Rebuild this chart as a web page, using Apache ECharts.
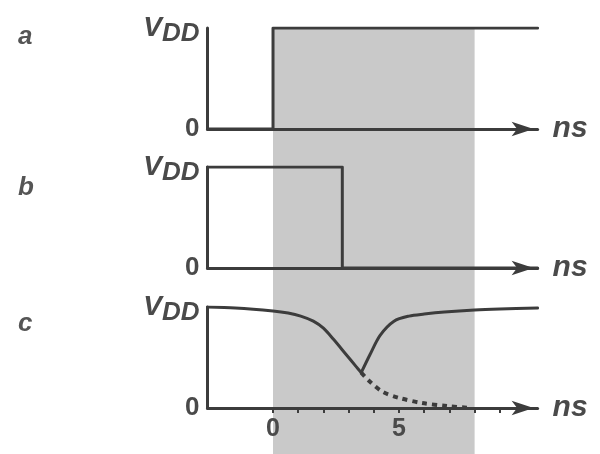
<!DOCTYPE html>
<html>
<head>
<meta charset="utf-8">
<script src="https://cdn.jsdelivr.net/npm/echarts@6/dist/echarts.min.js"></script>
<style>
  html, body { margin: 0; padding: 0; background: #fff; }
  #main { width: 600px; height: 454px; }
</style>
</head>
<body>
<div id="main"></div>
<script>
// time range of the plot (ns), levels are in units of VDD
var tMin = -2.6;
var tMax = 10.5;

// shaded window (ns)
var shadeFrom = 0;
var shadeTo = 8;

// a: rises at t = 0
var aTimes = [-2.6, 0, 0, 10.5];
var aLevels = [0, 0, 1, 1];

// b: falls at t = 2.75
var bTimes = [-2.6, 2.75, 2.75, 10.5];
var bLevels = [1, 1, 0, 0];

// c: dips then recovers (solid), the dotted part keeps falling
var cFallTimes = [-2.6, -1.5, 0, 0.6, 1.1, 1.6, 2.0, 2.4, 2.9, 3.3, 3.5];
var cFallLevels = [1.0, 0.99, 0.96, 0.94, 0.91, 0.86, 0.79, 0.68, 0.53, 0.41, 0.35];
var cRiseTimes = [3.5, 3.85, 4.25, 4.8, 5.4, 6.0, 6.8, 8.0, 9.0, 10.5];
var cRiseLevels = [0.35, 0.53, 0.72, 0.86, 0.91, 0.93, 0.95, 0.97, 0.98, 0.99];
var cDropTimes = [3.5, 3.85, 4.35, 5.0, 5.9, 6.9, 7.8];
var cDropLevels = [0.35, 0.26, 0.16, 0.10, 0.05, 0.02, 0.0];

// ticks / labels on the bottom time axis
var tickValues = [0, 1, 2, 3, 4, 5, 6, 7, 8, 9];
var tickLabels = [0, 5];

var panelNames = ['a', 'b', 'c'];

function pairs(xs, ys) {
  var out = [];
  for (var i = 0; i < xs.length; i++) out.push([xs[i], ys[i]]);
  return out;
}

var ink = '#3c3c3c';
var textInk = '#4a4a4a';
var font = 'Liberation Sans, Arial, sans-serif';

var chart = echarts.init(document.getElementById('main'));

var gridLeft = 207.5, gridRight = 62.4;
var panelTops = [28, 167, 307];
var panelHeight = 101;

var grids = [], xAxes = [], yAxes = [];
for (var i = 0; i < 3; i++) {
  grids.push({ left: gridLeft, right: gridRight, top: panelTops[i], height: panelHeight });
  xAxes.push({
    type: 'value', gridIndex: i, min: tMin, max: tMax, z: 5,
    splitLine: { show: false },
    axisLine: {
      show: true, onZero: false,
      lineStyle: { color: ink, width: 3 },
      symbol: ['none', 'arrow'], symbolSize: [11, 22], symbolOffset: [0, -4]
    },
    axisTick: i === 2 ? {
      show: true, customValues: tickValues, length: 5, inside: false,
      lineStyle: { color: ink, width: 2 }
    } : { show: false },
    axisLabel: i === 2 ? {
      show: true, customValues: tickLabels, margin: 9,
      color: textInk, fontSize: 25, fontWeight: 'bold', fontFamily: font
    } : { show: false },
    name: 'ns', nameLocation: 'end', nameGap: 15,
    nameTextStyle: { color: textInk, fontSize: 30, fontWeight: 'bold', fontStyle: 'italic', fontFamily: font, verticalAlign: 'middle' }
  });
  yAxes.push({
    type: 'value', gridIndex: i, min: 0, max: 1, interval: 1, z: 5,
    splitLine: { show: false },
    axisTick: { show: false },
    axisLine: { show: true, onZero: false, lineStyle: { color: ink, width: 3 } },
    axisLabel: {
      show: true, margin: 8,
      formatter: function (v) { return v === 1 ? '{v|V}{d|DD}' : '{z|0}'; },
      rich: {
        v: { color: textInk, fontSize: 28, fontWeight: 'bold', fontStyle: 'italic', fontFamily: font },
        d: { color: textInk, fontSize: 26, fontWeight: 'bold', fontStyle: 'italic', fontFamily: font, padding: [12, 0, 0, 0] },
        z: { color: textInk, fontSize: 26, fontWeight: 'bold', fontFamily: font }
      }
    }
  });
}
// full-height grid used only for the shaded window
grids.push({ left: gridLeft, right: gridRight, top: 29, bottom: 0 });
xAxes.push({ type: 'value', gridIndex: 3, min: tMin, max: tMax, show: false });
yAxes.push({ type: 'value', gridIndex: 3, min: 0, max: 1, show: false });

function wave(idx, data, dashed, smooth) {
  return {
    type: 'line', xAxisIndex: idx, yAxisIndex: idx, data: data,
    showSymbol: false, smooth: smooth ? 0.3 : false, z: 4, silent: true,
    lineStyle: dashed
      ? { color: ink, width: 4, type: [5, 5], cap: 'butt' }
      : { color: ink, width: 3, cap: 'round', join: 'round' }
  };
}

var option = {
  animation: false,
  backgroundColor: '#fff',
  title: panelNames.map(function (n, i) {
    return {
      text: n, left: 18, top: [24, 175, 311][i], padding: 0,
      textStyle: { color: '#555', fontSize: 26, fontWeight: 'bold', fontStyle: 'italic', fontFamily: font }
    };
  }),
  grid: grids,
  xAxis: xAxes,
  yAxis: yAxes,
  series: [
    {
      type: 'line', xAxisIndex: 3, yAxisIndex: 3, data: [], z: 1, silent: true,
      markArea: {
        silent: true,
        itemStyle: { color: '#c9c9c9' },
        data: [[{ xAxis: shadeFrom }, { xAxis: shadeTo }]]
      }
    },
    wave(0, pairs(aTimes, aLevels), false, false),
    wave(1, pairs(bTimes, bLevels), false, false),
    wave(2, pairs(cFallTimes, cFallLevels), false, true),
    wave(2, pairs(cRiseTimes, cRiseLevels), false, true),
    wave(2, pairs(cDropTimes, cDropLevels), true, true)
  ]
};

chart.setOption(option);
</script>
</body>
</html>
